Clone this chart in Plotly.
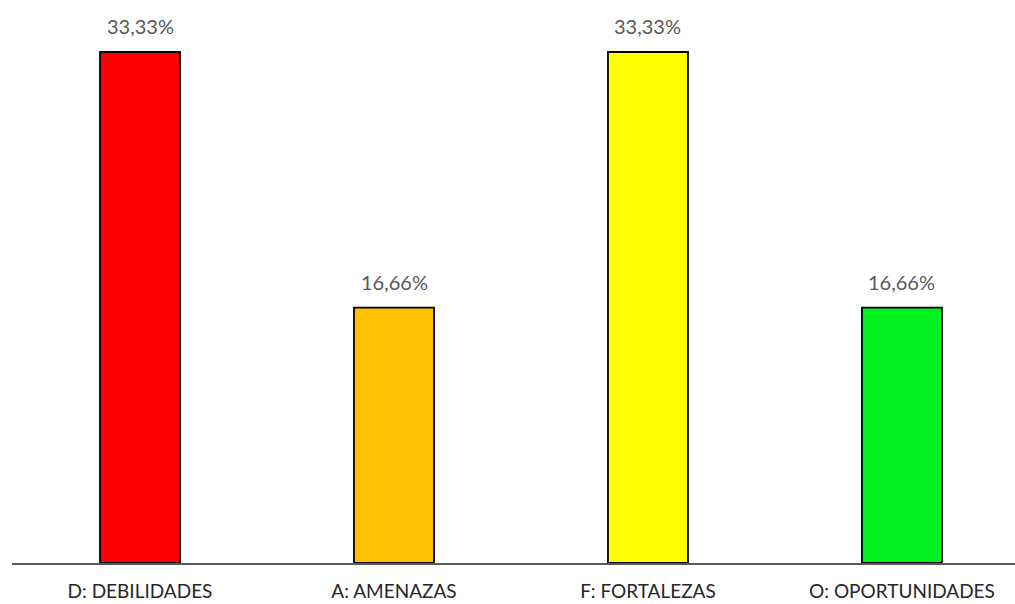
import plotly.graph_objects as go

categories = ["D: DEBILIDADES", "A: AMENAZAS", "F: FORTALEZAS", "O: OPORTUNIDADES"]
values = [33.33, 16.66, 33.33, 16.66]
labels = ["33,33%", "16,66%", "33,33%", "16,66%"]
colors = ["#FF0000", "#FFC000", "#FFFF00", "#00F020"]

fig = go.Figure()
fig.add_trace(go.Bar(
    x=categories, y=values, width=0.315,
    marker=dict(color=colors, line=dict(color="#000000", width=1.8)),
    hoverinfo="skip",
))
for c, v, t in zip(categories, values, labels):
    fig.add_annotation(x=c, y=v, text=t, showarrow=False, yanchor="bottom", yshift=12,
                       font=dict(family="Lato", size=20, color="#595959"))

fig.update_layout(
    width=1015, height=604,
    margin=dict(l=12, r=0, t=0, b=41),
    plot_bgcolor="white", paper_bgcolor="white",
    showlegend=False,
    xaxis=dict(range=[-0.504, 3.445], showline=True, linecolor="#595959", linewidth=1.5,
               ticks="", ticklabelstandoff=10, automargin=False,
               tickfont=dict(family="Lato", size=19, color="#262626"), showgrid=False),
    yaxis=dict(range=[0, 36.72], visible=False, showgrid=False, zeroline=False, fixedrange=True),
)
fig.write_html("out.html")
